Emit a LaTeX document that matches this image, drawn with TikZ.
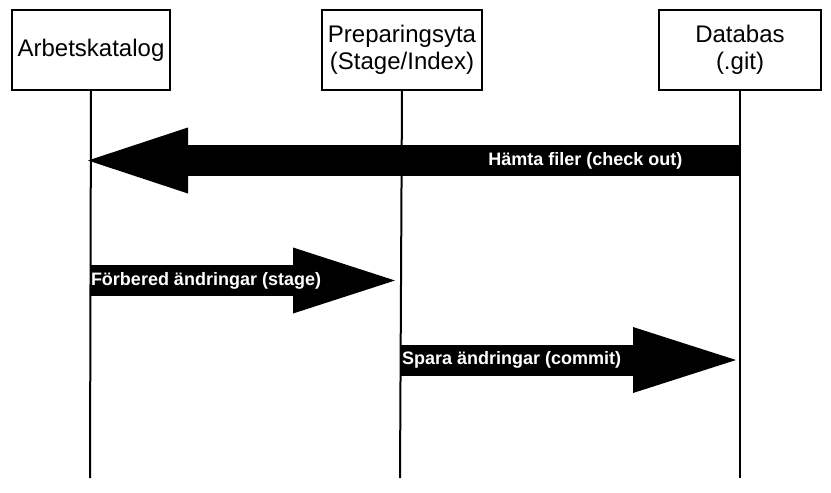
\documentclass[tikz,border=0pt]{standalone}
\usepackage{fontspec}
\setmainfont{Liberation Sans}
\usepackage{tikz}
\usetikzlibrary{positioning, arrows.meta}

\begin{document}
\begin{tikzpicture}[x=1pt,y=-1pt,
    party/.style={draw,line width=1.3pt,minimum height=80pt,inner sep=0pt,align=center,
      font=\fontsize{24}{27}\selectfont},
    life/.style={line width=2pt},
    fat/.style={line width=31pt,-{Triangle[length=#1,width=66pt,line width=0pt]}},
    msg/.style={text=white,inner sep=1pt,outer sep=0pt,font=\bfseries\fontsize{18}{20}\selectfont}]
    \useasboundingbox (0,0) rectangle (831,493);
    \node [party,minimum width=158pt] (ak) at (91,50) {Arbetskatalog};
    \node [party,minimum width=160pt] (ps) at (402,50) {Preparingsyta\\(Stage/Index)};
    \node [party,minimum width=162pt] (db) at (740,50) {Databas\\(.git)};
    \coordinate (akEnd) at (90,478);
    \coordinate (psEnd) at (400,478);
    \coordinate (dbEnd) at (740,478);
    \draw [life] (ak.south) -- (akEnd);
    \draw [life] (ps.south) -- (psEnd);
    \draw [life] (db.south) -- (dbEnd);
    \coordinate (db1) at (740,160.5);
    \coordinate (ak1) at (88,160.5);
    \coordinate (ak2) at (90,280.5);
    \coordinate (ps2) at (395,280.5);
    \coordinate (ps3) at (401,360);
    \coordinate (db3) at (736,360);
    \draw [fat=100pt] (db1) -- (ak1) node [msg,pos=0.237] {Hämta filer (check out)};
    \draw [fat=102pt] (ak2) -- (ps2) node [msg,pos=0,anchor=west] {Förbered ändringar (stage)};
    \draw [fat=103pt] (ps3) -- (db3) node [msg,pos=0,anchor=west] {Spara ändringar (commit)};
\end{tikzpicture}
\end{document}
